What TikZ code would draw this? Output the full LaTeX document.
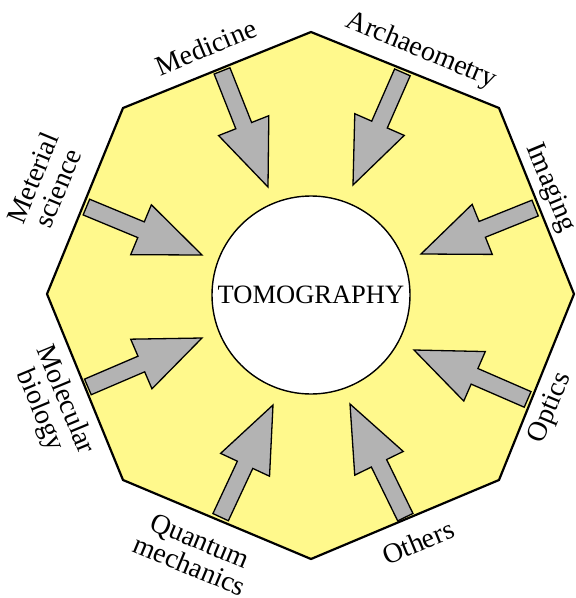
\documentclass[tikz,border=0pt]{standalone}
\usepackage{fontspec}
\setmainfont{Liberation Serif}
\usetikzlibrary{calc}

\definecolor{paneyellow}{HTML}{FFF98C}
\definecolor{arrowgray}{HTML}{B3B3B3}

\tikzset{
  octfill/.style={fill=paneyellow, draw=none},
  octborder/.style={draw=black, line width=2.2pt, line join=miter},
  arrowbody/.style={fill=arrowgray, draw=black, line width=1.3pt, line join=miter},
  hub/.style={circle, draw=black, line width=1.4pt, fill=white, minimum size=198pt, inner sep=0pt,
              font=\fontsize{26.5}{30}\selectfont},
  field/.style={align=center, inner sep=0pt, font=\fontsize{28}{27}\selectfont}
}

% block arrow from tail coordinate #1 to tip coordinate #2
\newcommand{\blockarr}[2]{%
  \coordinate (tb) at ($(#1)!1.5pt!(#2)$);
  \coordinate (hb) at ($(#2)!66pt!(#1)$);
  \draw[arrowbody]
    ($(tb)!8.5pt!90:(#2)$) -- ($(hb)!8.5pt!90:(#2)$) -- ($(hb)!27pt!90:(#2)$) -- (#2)
    -- ($(hb)!27pt!-90:(#2)$) -- ($(hb)!8.5pt!-90:(#2)$) -- ($(tb)!8.5pt!-90:(#2)$) -- cycle;
}

\begin{document}
\begin{tikzpicture}[x=1pt, y=-1pt]
\useasboundingbox (0,0) rectangle (576,598);

% octagon corners
\coordinate (v1) at (311,32);
\coordinate (v2) at (499,108);
\coordinate (v3) at (574,294);
\coordinate (v4) at (499,480);
\coordinate (v5) at (311,559);
\coordinate (v6) at (123,480);
\coordinate (v7) at (47,294);
\coordinate (v8) at (123,108);

\fill[octfill] (v1) -- (v2) -- (v3) -- (v4) -- (v5) -- (v6) -- (v7) -- (v8) -- cycle;

% arrow tails on the edges and tips near the hub
\coordinate (tMed) at (221.5,69.5);  \coordinate (pMed) at (268,187);
\coordinate (tArc) at (403,71);      \coordinate (pArc) at (353,185);
\coordinate (tImg) at (536.5,207.5); \coordinate (pImg) at (421,254);
\coordinate (tOpt) at (529,400);     \coordinate (pOpt) at (414,350);
\coordinate (tOth) at (406,518.5);   \coordinate (pOth) at (350,404);
\coordinate (tQua) at (220,518.5);   \coordinate (pQua) at (273,405);
\coordinate (tMol) at (86.5,387.5);  \coordinate (pMol) at (202,338);
\coordinate (tMat) at (85,206.5);    \coordinate (pMat) at (202,255);

\blockarr{tMed}{pMed}
\blockarr{tArc}{pArc}
\blockarr{tImg}{pImg}
\blockarr{tOpt}{pOpt}
\blockarr{tOth}{pOth}
\blockarr{tQua}{pQua}
\blockarr{tMol}{pMol}
\blockarr{tMat}{pMat}

\node[hub] (core) at (311,295) {TOMOGRAPHY};

\draw[octborder] (v1) -- (v2) -- (v3) -- (v4) -- (v5) -- (v6) -- (v7) -- (v8) -- cycle;

% field labels along the edges
\node[field, rotate=22.5]  (lMed) at (206,47)  {Medicine};
\node[field, rotate=-22.5] (lArc) at (421,51)  {Archaeometry};
\node[field, rotate=-67.5] (lImg) at (550,188) {Imaging};
\node[field, rotate=67.5]  (lOpt) at (551,408) {Optics};
\node[field, rotate=22.5]  (lOth) at (418,542) {Others};
\node[field, rotate=-22.5] (lQua) at (195,553) {Quantum\\mechanics};
\node[field, rotate=-67.5] (lMol) at (52,405)  {Molecular\\biology};
\node[field, rotate=67.5]  (lMat) at (45,183)  {Meterial\\science};
\end{tikzpicture}
\end{document}
